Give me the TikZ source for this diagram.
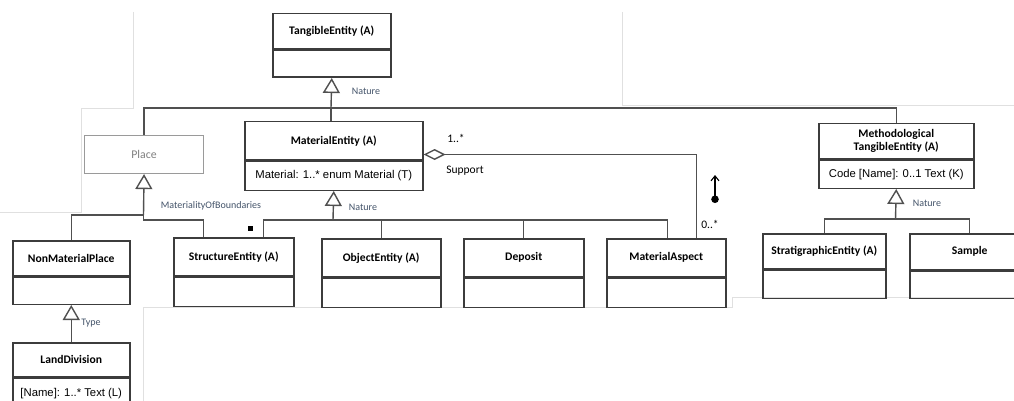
\documentclass[tikz,border=0pt]{standalone}
\usepackage{fontspec}
\setmainfont{Carlito}
\newfontfamily\arialf{Liberation Sans}
\usetikzlibrary{arrows.meta}
\definecolor{ln}{HTML}{505050}
\definecolor{bx}{HTML}{3C3C3C}
\definecolor{lbl}{HTML}{44546A}
\definecolor{art}{HTML}{E0E0E0}
\definecolor{gbx}{HTML}{9A9A9A}
\tikzset{
 clsname/.style={draw=bx, line width=1.5pt, anchor=north west, inner sep=0pt, align=center,
   font=\fontsize{11.6}{13}\selectfont\bfseries, text=black},
 clsattr/.style={draw=bx, line width=1.5pt, anchor=north west, inner sep=0pt,
   font=\arialf\fontsize{11.3}{13}\selectfont, text=black},
 conn/.style={draw=ln, line width=1.4pt},
 gen/.style={conn, -{Triangle[open,length=15pt,width=17pt]}},
 lab/.style={font=\fontsize{10}{12}\selectfont, text=lbl, inner sep=0pt},
 mult/.style={font=\fontsize{11.5}{13}\selectfont, text=black, inner sep=0pt},
 artline/.style={draw=art, line width=0.8pt},
}
\begin{document}
\begin{tikzpicture}[x=1pt,y=-1pt]
\useasboundingbox (0,0) rectangle (1014,401);
\clip (0,0) rectangle (1014,401);
\fill[white] (0,0) rectangle (1014,401);
% faint frame artefacts
\draw[artline] (133,12) -- (133,108) -- (81,108) -- (81,212) -- (0,212);
\draw[artline] (622,12) -- (622,105) -- (1014,105);
\draw[artline] (143,401) -- (143,307) -- (732,307) -- (732,297) -- (1014,297);

% classes
\node[clsname, minimum width=118pt, minimum height=35pt] (te) at (272,13) {TangibleEntity (A)};
\node[clsattr, minimum width=118pt, minimum height=27pt] (te-a) at (te.south west) {};

\node[clsname, minimum width=178pt, minimum height=38pt] (me) at (244,121) {MaterialEntity (A)};
\node[clsattr, minimum width=178pt, minimum height=29pt] (me-a) at (me.south west) {Material: 1..* enum Material (T)};

\node[clsname, minimum width=155pt, minimum height=35pt] (mte) at (818,123) {Methodological\\TangibleEntity (A)};
\node[clsattr, minimum width=155pt, minimum height=28pt] (mte-a) at (mte.south west) {Code [Name]: 0..1 Text (K)};

\node[clsname, draw=gbx, line width=1.1pt, minimum width=119pt, minimum height=38pt, font=\fontsize{11.8}{13}\selectfont, text=gray] (place) at (84,135) {Place};

\node[clsname, minimum width=117pt, minimum height=35pt] (nmp) at (12,240) {NonMaterialPlace};
\node[clsattr, minimum width=117pt, minimum height=27pt] (nmp-a) at (nmp.south west) {};

\node[clsname, minimum width=117pt, minimum height=34pt] (ld) at (12,342) {LandDivision};
\node[clsattr, minimum width=117pt, minimum height=30pt] (ld-a) at (ld.south west) {[Name]: 1..* Text (L)};

\node[clsname, minimum width=120pt, minimum height=38pt] (se) at (173,237) {StructureEntity (A)};
\node[clsattr, minimum width=120pt, minimum height=29pt] (se-a) at (se.south west) {};

\node[clsname, minimum width=119pt, minimum height=38pt] (oe) at (321,238) {ObjectEntity (A)};
\node[clsattr, minimum width=119pt, minimum height=29pt] (oe-a) at (oe.south west) {};

\node[clsname, minimum width=120pt, minimum height=38pt] (dep) at (463,238) {Deposit};
\node[clsattr, minimum width=120pt, minimum height=29pt] (dep-a) at (dep.south west) {};

\node[clsname, minimum width=119pt, minimum height=38pt] (ma) at (606,238) {MaterialAspect};
\node[clsattr, minimum width=119pt, minimum height=29pt] (ma-a) at (ma.south west) {};

\node[clsname, minimum width=123pt, minimum height=35pt] (strat) at (762,233) {StratigraphicEntity (A)};
\node[clsattr, minimum width=123pt, minimum height=28pt] (strat-a) at (strat.south west) {};

\node[clsname, minimum width=120pt, minimum height=36pt] (samp) at (909,233) {Sample};
\node[clsattr, minimum width=120pt, minimum height=27pt] (samp-a) at (samp.south west) {};

% TangibleEntity generalisation
\coordinate (j-te) at (331,108);
\draw[gen] (j-te) -- (te-a.south);
\draw[conn] (place.north) |- (j-te) -| (mte.north);
\draw[conn] (j-te) -- (j-te |- me.north);

% Place generalisation
\coordinate (j-pl) at (143.5,215);
\draw[gen] (j-pl) -- (place.south);
\draw[conn] (j-pl) -| (nmp.north);
\draw[conn] (j-pl) -- ++(0,5) -| ([xshift=-30pt]se.north);

% MaterialEntity generalisation
\coordinate (j-me) at (333,220);
\draw[gen] (j-me) -- (me-a.south);
\draw[conn] ([xshift=30pt]se.north) |- (j-me) -| ([xshift=1.5pt]ma.north);
\draw[conn] (oe.north) -- (oe.north |- j-me);
\draw[conn] (dep.north) -- (dep.north |- j-me);
\node[fill=black, minimum size=5pt, inner sep=0pt] (sq) at (250,228) {};

% Support aggregation
\draw[conn, {Diamond[open,length=22pt,width=11pt]}-] ([yshift=6pt]me-a.north east) -| ([xshift=30pt]ma.north);
\coordinate (nav-d) at (715,203);
\coordinate (nav-t) at (715,175);
\draw[line width=1.1pt, black, {Circle[length=7.5pt]}-{Straight Barb[length=5pt,width=8pt]}] (nav-d) -- (nav-t);

% Methodological generalisation
\coordinate (j-mt) at (895.5,219);
\draw[gen] (j-mt) -- (mte-a.south);
\draw[conn] (strat.north) |- (j-mt) -| (samp.north);

% NonMaterialPlace generalisation
\draw[gen] (ld.north) -- (nmp-a.south);

% labels
\node[lab] (l1) at (366,91) {Nature};
\node[lab] (l2) at (211,206) {MaterialityOfBoundaries};
\node[lab] (l3) at (363,207) {Nature};
\node[lab] (l4) at (927,203) {Nature};
\node[lab] (l5) at (91,323) {Type};
\node[mult] (m1) at (456,138) {1..*};
\node[mult] (m2) at (465,171) {Support};
\node[mult] (m3) at (710,224) {0..*};
\end{tikzpicture}
\end{document}
